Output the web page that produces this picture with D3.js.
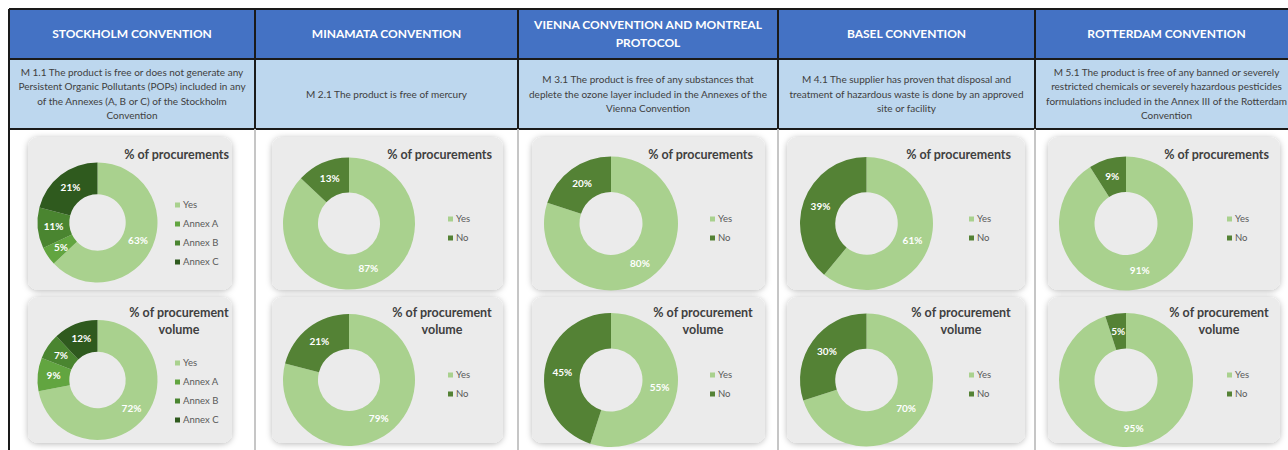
<!DOCTYPE html>
<html><head><meta charset="utf-8">
<script src="https://cdn.jsdelivr.net/npm/d3@7"></script>
<style>
html,body{margin:0;padding:0;background:#fff;overflow:hidden;}
svg{display:block;font-family:Lato, "Open Sans", sans-serif;}
</style></head>
<body>
<svg id="c" width="1288" height="450"></svg>
<script>
// ---------- DATA ----------
const headerLines = [
  ["STOCKHOLM CONVENTION"],
  ["MINAMATA CONVENTION"],
  ["VIENNA CONVENTION AND MONTREAL", "PROTOCOL"],
  ["BASEL CONVENTION"],
  ["ROTTERDAM CONVENTION"]
];
const descriptionLines = [
  ["M 1.1 The product is free or does not generate any", "Persistent Organic Pollutants (POPs) included in any", "of the Annexes (A, B or C) of the Stockholm", "Convention"],
  ["M 2.1 The product is free of mercury"],
  ["M 3.1 The product is free of any substances that", "deplete the ozone layer included in the Annexes of the", "Vienna Convention"],
  ["M 4.1 The supplier has proven that disposal and", "treatment of hazardous waste is done by an approved", "site or facility"],
  ["M 5.1 The product is free of any banned or severely", "restricted chemicals or severely hazardous pesticides", "formulations included in the Annex III of the Rotterdam", "Convention"]
];
const stockholmCategories = ["Yes", "Annex A", "Annex B", "Annex C"];
const yesNoCategories = ["Yes", "No"];
const chartTitles = [["% of procurements"], ["% of procurement", "volume"]];

const stockholmProcurements = [63, 5, 11, 21];
const stockholmVolume = [72, 9, 7, 12];
const minamataProcurements = [87, 13];
const minamataVolume = [79, 21];
const viennaProcurements = [80, 20];
const viennaVolume = [55, 45];
const baselProcurements = [61, 39];
const baselVolume = [70, 30];
const rotterdamProcurements = [91, 9];
const rotterdamVolume = [95, 5];

// ---------- LAYOUT ----------
const colEdges = [9, 255, 518, 778, 1035, 1300];
const panelX = [[28, 232], [272, 503], [532, 765], [787, 1025], [1048, 1280]];
const donutCx = [97.5, 349, 611, 866.5, 1126];
const donutR = [60, 66, 67, 66.5, 67];
const titleRight = [229, 492, 753, 1011, 1269];
const legendX = [175, 448, 710, 969, 1227];

const columns = [
  {cats: stockholmCategories, vals: [stockholmProcurements, stockholmVolume]},
  {cats: yesNoCategories, vals: [minamataProcurements, minamataVolume]},
  {cats: yesNoCategories, vals: [viennaProcurements, viennaVolume]},
  {cats: yesNoCategories, vals: [baselProcurements, baselVolume]},
  {cats: yesNoCategories, vals: [rotterdamProcurements, rotterdamVolume]}
];

const color = d3.scaleOrdinal()
  .domain(["Yes", "Annex A", "Annex B", "Annex C", "No"])
  .range(["#a9d18e", "#62a540", "#4a8530", "#2f5a1e", "#548235"]);

const svg = d3.select("#c");
const defs = svg.append("defs");
const f = defs.append("filter").attr("id", "sh").attr("x", "-10%").attr("y", "-10%").attr("width", "120%").attr("height", "120%");
f.append("feDropShadow").attr("dx", 0).attr("dy", 1).attr("stdDeviation", 3).attr("flood-color", "#000").attr("flood-opacity", 0.28);

const tableTop = 9, headBottom = 59, descBottom = 129;

// header row
colEdges.slice(0, -1).forEach((x0, i) => {
  const x1 = colEdges[i + 1];
  svg.append("rect").attr("x", x0).attr("y", tableTop).attr("width", x1 - x0).attr("height", headBottom - tableTop).attr("fill", "#4472c4");
  svg.append("rect").attr("x", x0).attr("y", headBottom).attr("width", x1 - x0).attr("height", descBottom - headBottom).attr("fill", "#bdd7ee");
  const cx = (x0 + Math.min(x1, 1298)) / 2;
  const hl = headerLines[i];
  const hy = (tableTop + headBottom) / 2 - (hl.length - 1) * 9;
  hl.forEach((t, j) => {
    svg.append("text").attr("x", cx).attr("y", hy + j * 18).attr("dy", "0.35em").attr("text-anchor", "middle")
      .attr("fill", "#fff").attr("font-weight", "bold").attr("font-size", 12).text(t);
  });
  const dl = descriptionLines[i];
  const dy0 = (headBottom + descBottom) / 2 - (dl.length - 1) * 7.3;
  dl.forEach((t, j) => {
    svg.append("text").attr("x", cx).attr("y", dy0 + j * 14.6).attr("dy", "0.35em").attr("text-anchor", "middle")
      .attr("fill", "#404040").attr("font-size", 10).text(t);
  });
});
// borders
const bc = "#1a1a1a";
svg.append("line").attr("x1", 9).attr("x2", 1288).attr("y1", tableTop).attr("y2", tableTop).attr("stroke", bc).attr("stroke-width", 2);
svg.append("line").attr("x1", 9).attr("x2", 1288).attr("y1", headBottom).attr("y2", headBottom).attr("stroke", bc).attr("stroke-width", 2);
svg.append("line").attr("x1", 9).attr("x2", 1288).attr("y1", descBottom).attr("y2", descBottom).attr("stroke", bc).attr("stroke-width", 2);
colEdges.forEach((x, i) => {
  svg.append("line").attr("x1", x).attr("x2", x).attr("y1", tableTop).attr("y2", descBottom).attr("stroke", bc).attr("stroke-width", 2);
  svg.append("line").attr("x1", x).attr("x2", x).attr("y1", descBottom).attr("y2", 450)
    .attr("stroke", i === 0 ? bc : "#c6c6c6").attr("stroke-width", 2);
});

const pie = d3.pie().sort(null).value(d => d.v);
const panelsY = [[137, 290], [297, 443]];
const cyRows = [[222.5, 223.5], [380, 380]];
const legendY0 = [[205, 219], [363, 375]];
const titleY = [[159], [317, 334]];

columns.forEach((col, i) => {
  [0, 1].forEach(row => {
    const [px0, px1] = panelX[i];
    const [py0, py1] = panelsY[row];
    svg.append("rect").attr("x", px0).attr("y", py0).attr("width", px1 - px0).attr("height", py1 - py0)
      .attr("rx", 10).attr("fill", "#ebebeb").attr("filter", "url(#sh)");
    const cx = donutCx[i];
    const cy = cyRows[row][i === 0 ? 0 : 1];
    const r = donutR[i], ri = r * 0.47;
    const arc = d3.arc().innerRadius(ri).outerRadius(r);
    const data = col.cats.map((c, k) => ({c, v: col.vals[row][k]}));
    const g = svg.append("g").attr("transform", `translate(${cx},${cy})`);
    const arcs = pie(data);
    g.selectAll("path").data(arcs).join("path").attr("d", arc).attr("fill", d => color(d.data.c));
    g.selectAll("text").data(arcs).join("text")
      .attr("transform", d => `translate(${arc.centroid(d)})`)
      .attr("text-anchor", "middle").attr("dy", "0.35em")
      .attr("fill", "#fff").attr("font-weight", "bold").attr("font-size", 10)
      .text(d => d.data.v + "%");
    // title
    const tl = chartTitles[row];
    tl.forEach((t, j) => {
      const tx = svg.append("text").attr("y", titleY[row][j]).attr("font-weight", "bold").attr("font-size", 12.5)
        .attr("fill", "#404040").text(t);
      if (tl.length === 1) tx.attr("x", titleRight[i]).attr("text-anchor", "end");
      else tx.attr("x", titleRight[i] - 50).attr("text-anchor", "middle");
    });
    // legend
    const ly0 = legendY0[row][i === 0 ? 0 : 1];
    col.cats.forEach((c, k) => {
      const ly = ly0 + k * 19;
      svg.append("rect").attr("x", legendX[i]).attr("y", ly - 2.5).attr("width", 5).attr("height", 5).attr("fill", color(c));
      svg.append("text").attr("x", legendX[i] + 8).attr("y", ly).attr("dy", "0.35em").attr("font-size", 9.5)
        .attr("fill", "#595959").text(c);
    });
  });
});
</script>
</body></html>
